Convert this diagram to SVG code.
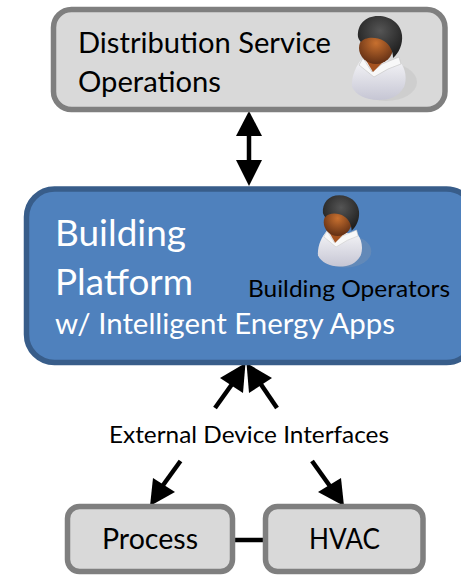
<svg xmlns="http://www.w3.org/2000/svg" width="461" height="575" viewBox="0 0 461 575">
<defs>
<style>
text{font-family:Lato,"Open Sans","Liberation Sans",sans-serif;fill:#000}
.w{fill:#fff}
.g{fill:#d9d9d9;stroke:#7f7f7f;stroke-width:5.500}
.c{stroke:#000;stroke-width:4.500;fill:none}
.a{fill:#000;stroke:none}
</style>
<radialGradient id="hair" cx="0.5" cy="0.35" r="0.65"><stop offset="0" stop-color="#555"/><stop offset="1" stop-color="#1e1e1e"/></radialGradient>
<radialGradient id="skin" cx="0.5" cy="0.35" r="0.7"><stop offset="0" stop-color="#c8702f"/><stop offset="1" stop-color="#5a2a12"/></radialGradient>
<linearGradient id="shirt" x1="0" y1="0" x2="0" y2="1"><stop offset="0" stop-color="#f6f6f8"/><stop offset="1" stop-color="#c6c6d4"/></linearGradient>
<g id="person">
<ellipse cx="34" cy="65" rx="31" ry="19" fill="#aaa" opacity="0.22"/>
<path d="M11 41L48 45C54 52 55 62 52 70C46 80 38 83 26 83C14 83 4 78 0 70C-1 60 4 48 11 41Z" fill="url(#shirt)"/>
<path d="M11 41L7 48L22 60L36 52L49 47L47 40L30 47L20 55Z" fill="#f8f8f8" stroke="#c9c9c9" stroke-width="0.7"/>
<path d="M12 40L21 55L32 44Z" fill="#a5521f"/>
<ellipse cx="24" cy="31" rx="17" ry="16" fill="url(#skin)"/>
<path d="M26 -1C13 -1 5 8 6 20C7 23 8 24 9 25C12 20 24 19 32 24C38 28 41 34 41 41C47 36 51 27 50 18C49 7 39 -1 26 -1Z" fill="url(#hair)"/>
</g>
</defs>
<rect width="461" height="575" fill="#fff"/>
<g id="connectors">
<path class="c" d="M249 132V164"/>
<polygon class="a" points="249,111 262,136 236,136"/>
<polygon class="a" points="249,186 236,160 262,160"/>
<path class="c" d="M215 408L235 380"/>
<polygon class="a" points="245.500,363 243,393 220,378"/>
<path class="c" d="M277 408L258 380"/>
<polygon class="a" points="246.500,363 272,378 249,393"/>
<path class="c" d="M180.500 461L161 488"/>
<polygon class="a" points="150,506 153,478 175,492"/>
<path class="c" d="M312 461L332 489"/>
<polygon class="a" points="344,506 318,492 341,478"/>
<path class="c" d="M233 540H265"/>
</g>
<g id="distribution">
<rect class="g" x="53.500" y="9.500" rx="18" ry="18" width="391.500" height="100"/>
<text x="78" y="53" font-size="29" textLength="253" lengthAdjust="spacingAndGlyphs">Distribution Service</text>
<text x="78" y="92" font-size="29" textLength="143" lengthAdjust="spacingAndGlyphs">Operations</text>
<use href="#person" transform="translate(352,17)"/>
</g>
<g id="platform">
<rect x="26.500" y="189" rx="28" ry="28" width="448" height="173.500" fill="#4f81bd" stroke="#385d8a" stroke-width="5.500"/>
<text class="w" x="55" y="246" font-size="36" textLength="131" lengthAdjust="spacingAndGlyphs">Building</text>
<text class="w" x="55" y="295" font-size="36" textLength="138" lengthAdjust="spacingAndGlyphs">Platform</text>
<text class="w" x="55" y="334" font-size="29" textLength="340" lengthAdjust="spacingAndGlyphs">w/ Intelligent Energy Apps</text>
<use href="#person" transform="translate(318,196) scale(0.82,0.85)"/>
<text x="248" y="297" font-size="24" textLength="202" lengthAdjust="spacingAndGlyphs">Building Operators</text>
</g>
<g id="label"><text x="109" y="443" font-size="24" textLength="280" lengthAdjust="spacingAndGlyphs">External Device Interfaces</text></g>
<g id="process">
<rect class="g" x="67.500" y="506.500" rx="12" ry="12" width="165" height="65"/>
<text x="102" y="549" font-size="29" textLength="96" lengthAdjust="spacingAndGlyphs">Process</text>
</g>
<g id="hvac">
<rect class="g" x="265.500" y="506.500" rx="12" ry="12" width="157.500" height="65"/>
<text x="309" y="549" font-size="29" textLength="71" lengthAdjust="spacingAndGlyphs">HVAC</text>
</g>
</svg>
